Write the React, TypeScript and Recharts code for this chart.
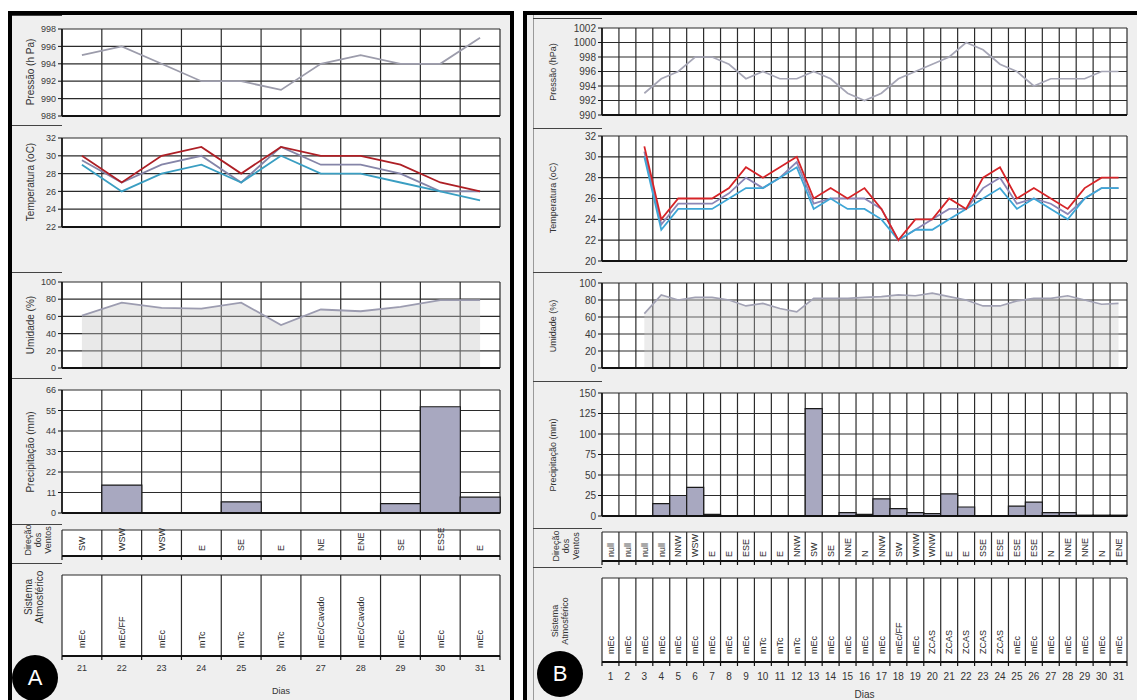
import React from 'react';
import { ComposedChart, Line, Area, Bar, XAxis, YAxis, CartesianGrid, ReferenceLine } from 'recharts';

const FONT = '"Liberation Sans", Arial, sans-serif';

// ---------------- Panel A (dias 21-31) ----------------
const daysA = ['21', '22', '23', '24', '25', '26', '27', '28', '29', '30', '31'];
const pressaoA = [995, 996, 994, 992, 992, 991, 994, 995, 994, 994, 997];
const tempMaxA = [30, 27, 30, 31, 28, 31, 30, 30, 29, 27, 26];
const tempMedA = [29.5, 27, 29, 30, 27, 31, 29, 29, 28, 26, 26];
const tempMinA = [29, 26, 28, 29, 27, 30, 28, 28, 27, 26, 25];
const umidadeA = [61, 76, 70, 69, 76, 50, 68, 66, 71, 79, 79];
const precipA = [0, 15, 0, 0, 6, 0, 0, 0, 5, 57, 8.5];
const ventosA = ['SW', 'WSW', 'WSW', 'E', 'SE', 'E', 'NE', 'ENE', 'SE', 'ESSE', 'E'];
const sistemaA = ['mEc', 'mEc/FF', 'mEc', 'mTc', 'mTc', 'mTc', 'mEc/Cavado', 'mEc/Cavado', 'mEc', 'mEc', 'mEc'];

const ticksPressaoA = [988, 990, 992, 994, 996, 998];
const ticksTempA = [22, 24, 26, 28, 30, 32];
const ticksUmidade = [0, 20, 40, 60, 80, 100];
const ticksPrecipA = [0, 11, 22, 33, 44, 55, 66];

// ---------------- Panel B (dias 1-31) ----------------
const daysB = ['1', '2', '3', '4', '5', '6', '7', '8', '9', '10', '11', '12', '13', '14', '15', '16', '17', '18', '19', '20', '21', '22', '23', '24', '25', '26', '27', '28', '29', '30', '31'];
const pressaoB = [null, null, 993, 995, 996, 998, 998, 997, 995, 996, 995, 995, 996, 995, 993, 992, 993, 995, 996, 997, 998, 1000, 999, 997, 996, 994, 995, 995, 995, 996, 996];
const tempMaxB = [null, null, 31, 24, 26, 26, 26, 27, 29, 28, 29, 30, 26, 27, 26, 27, 25, 22, 24, 24, 26, 25, 28, 29, 26, 27, 26, 25, 27, 28, 28];
const tempMedB = [null, null, 30.5, 23.5, 25.5, 25.5, 25.5, 26.5, 28, 27, 28, 29.5, 25.5, 26, 26, 26, 25, 22, 23, 24, 25, 25, 27, 28, 25.5, 26, 25.5, 24.5, 26, 27, 27];
const tempMinB = [null, null, 30, 23, 25, 25, 25, 26, 27, 27, 28, 29, 25, 26, 25, 25, 24, 22, 23, 23, 24, 25, 26, 27, 25, 26, 25, 24, 26, 27, 27];
const umidadeB = [null, null, 64, 86, 80, 83, 83, 80, 73, 76, 70, 66, 82, 82, 82, 83, 84, 86, 85, 88, 84, 80, 73, 73, 79, 82, 82, 85, 80, 75, 76];
const precipB = [0, 0, 0, 15, 25, 35, 2, 0, 0, 0, 0, 0, 131, 0, 4, 2, 21, 9, 4, 3, 27, 11, 0, 0, 12, 17, 4, 4, 1, 1, 1];
const ventosB = ['null', 'null', 'null', 'null', 'NNW', 'WSW', 'E', 'E', 'ESE', 'E', 'E', 'NNW', 'SW', 'SE', 'NNE', 'N', 'NNW', 'SW', 'WNW', 'WNW', 'E', 'E', 'SSE', 'ESE', 'ESE', 'ESE', 'N', 'NNE', 'NNE', 'N', 'ENE'];
const sistemaB = ['mEc', 'mEc', 'mEc', 'mEc', 'mEc', 'mEc', 'mEc', 'mEc', 'mEc', 'mTc', 'mTc', 'mTc', 'mEc', 'mEc', 'mEc', 'mEc', 'mEc', 'mEc/FF', 'mEc', 'ZCAS', 'ZCAS', 'ZCAS', 'ZCAS', 'ZCAS', 'mEc', 'mEc', 'mEc', 'mEc', 'mEc', 'mEc', 'mEc'];

const ticksPressaoB = [990, 992, 994, 996, 998, 1000, 1002];
const ticksTempB = [20, 22, 24, 26, 28, 30, 32];
const ticksPrecipB = [0, 25, 50, 75, 100, 125, 150];

const tableA = daysA.map((day, i) => ({
  day, pressao: pressaoA[i], tmax: tempMaxA[i], tmed: tempMedA[i], tmin: tempMinA[i], umid: umidadeA[i], prec: precipA[i],
}));
const tableB = daysB.map((day, i) => ({
  day, pressao: pressaoB[i], tmax: tempMaxB[i], tmed: tempMedB[i], tmin: tempMinB[i], umid: umidadeB[i], prec: precipB[i],
}));

type GraphProps = {
  table: any[]; n: number; x0: number; x1: number; y0: number; y1: number;
  domain: [number, number]; ticks: number[]; tickFont: number; children?: React.ReactNode;
};

function GraphRow({ table, n, x0, x1, y0, y1, domain, ticks, tickFont, children }: GraphProps) {
  const YW = 40, MT = 7, MR = 6, MB = 8;
  const w = x1 - x0, h = y1 - y0;
  const gen = (p: any) => {
    const o = p && p.offset;
    const L = o && typeof o.left === 'number' ? o.left : YW;
    const W = o && typeof o.width === 'number' ? o.width : w;
    return Array.from({ length: n + 1 }, (_, i) => L + (i * W) / n);
  };
  return (
    <div style={{ position: 'absolute', left: x0 - YW, top: y0 - MT }}>
      <ComposedChart
        width={w + YW + MR}
        height={h + MT + MB}
        margin={{ top: MT, right: MR, bottom: MB, left: 0 }}
        data={table}
        barCategoryGap={0}
        barGap={0}
      >
        <CartesianGrid stroke="#2b2b2b" strokeWidth={1.2} fill="#ffffff" verticalCoordinatesGenerator={gen} />
        <XAxis dataKey="day" scale="band" hide />
        <YAxis
          width={YW}
          type="number"
          domain={domain}
          ticks={ticks}
          interval={0}
          tickSize={4}
          tickMargin={2}
          tick={{ fontSize: tickFont, fill: '#3a3a3a', fontFamily: FONT }}
          tickLine={{ stroke: '#111' }}
          axisLine={{ stroke: '#111', strokeWidth: 1.5 }}
        />
        {children}
        <ReferenceLine y={domain[0]} stroke="#111" strokeWidth={2} />
      </ComposedChart>
    </div>
  );
}

type TextProps = {
  table: any[]; labels: string[]; n: number; x0: number; x1: number; y0: number; y1: number;
  fontSize: number; textLift: number; days?: boolean; dayFont?: number; dayOffset?: number; xh?: number;
};

function TextRow({ table, labels, n, x0, x1, y0, y1, fontSize, textLift, days, dayFont = 9, dayOffset = 14, xh = 6 }: TextProps) {
  const ML = 4, MR = 6, MT = 2;
  const w = x1 - x0, h = y1 - y0;
  const bottom = MT + h;
  const bw = w / n;
  const gen = (p: any) => {
    const o = p && p.offset;
    const L = o && typeof o.left === 'number' ? o.left : ML;
    const W = o && typeof o.width === 'number' ? o.width : w;
    return Array.from({ length: n + 1 }, (_, i) => L + (i * W) / n);
  };
  const renderTick = (props: any) => {
    const x = props.x;
    const idx = props.payload && typeof props.payload.index === 'number' ? props.payload.index : props.index;
    return (
      <g>
        <line x1={x - bw / 2} x2={x - bw / 2} y1={bottom} y2={bottom + 4} stroke="#111" strokeWidth={1.2} />
        {idx === n - 1 ? <line x1={x + bw / 2} x2={x + bw / 2} y1={bottom} y2={bottom + 4} stroke="#111" strokeWidth={1.2} /> : null}
        <text
          transform={`translate(${x + fontSize * 0.36},${bottom - textLift}) rotate(-90)`}
          fontSize={fontSize}
          fontFamily={FONT}
          fill="#2a2a2a"
          textAnchor="start"
        >
          {labels[idx]}
        </text>
        {days ? (
          <text x={x} y={bottom + dayOffset} textAnchor="middle" fontSize={dayFont} fontFamily={FONT} fill="#333">
            {props.payload.value}
          </text>
        ) : null}
      </g>
    );
  };
  return (
    <div style={{ position: 'absolute', left: x0 - ML, top: y0 - MT }}>
      <ComposedChart
        width={w + ML + MR}
        height={h + MT + xh}
        margin={{ top: MT, right: MR, bottom: 0, left: ML }}
        data={table}
      >
        <CartesianGrid stroke="#2b2b2b" strokeWidth={1.2} fill="#ffffff" horizontalPoints={[MT]} verticalCoordinatesGenerator={gen} />
        <XAxis
          dataKey="day"
          scale="band"
          height={xh}
          interval={0}
          tickLine={false}
          tick={renderTick}
          axisLine={{ stroke: '#111', strokeWidth: 2 }}
          label={days ? { value: 'Dias', position: 'insideBottom', offset: 2, fontSize: dayFont, fill: '#333', fontFamily: FONT } : undefined}
        />
        <YAxis hide domain={[0, 1]} />
      </ComposedChart>
    </div>
  );
}

function Title({ text, x, y, size }: { text: string; x: number; y: number; size: number }) {
  return (
    <div
      style={{
        position: 'absolute', left: x, top: y, transform: 'translate(-50%, -50%) rotate(-90deg)',
        whiteSpace: 'pre', textAlign: 'center', fontSize: size, lineHeight: `${size + 1}px`, color: '#333', fontFamily: FONT,
      }}
    >
      {text}
    </div>
  );
}

function Sep({ x0, x1, y }: { x0: number; x1: number; y: number }) {
  return <div style={{ position: 'absolute', left: x0, top: y, width: x1 - x0, height: 1, background: '#444' }} />;
}

function Badge({ letter, cx, cy }: { letter: string; cx: number; cy: number }) {
  return (
    <div
      style={{
        position: 'absolute', left: cx - 23, top: cy - 23, width: 46, height: 46, borderRadius: '50%', background: '#000',
        color: '#fff', fontSize: 22, lineHeight: '46px', textAlign: 'center', fontFamily: FONT,
      }}
    >
      {letter}
    </div>
  );
}

export default function App() {
  const A = { x0: 62, x1: 500, n: 11 };
  const B = { x0: 602, x1: 1127, n: 31 };
  return (
    <div style={{ position: 'absolute', left: 0, top: 0, width: 1137, height: 700, overflow: 'hidden', background: '#fff', fontFamily: FONT }}>
      <div style={{ position: 'absolute', left: 8, top: 11, width: 506, height: 720, border: '4px solid #000', boxSizing: 'border-box', background: '#efefef' }} />
      <div style={{ position: 'absolute', left: 523, top: 11, width: 640, height: 720, border: '4px solid #000', boxSizing: 'border-box', background: '#efefef' }} />
      <div style={{ position: 'absolute', left: 533, top: 15, width: 1, height: 690, background: '#9a9a9a' }} />

      {/* separators left column */}
      {[15, 125, 272, 378, 524, 563].map((y) => <Sep key={'a' + y} x0={12} x1={62} y={y} />)}
      {[18, 128, 272, 381, 528, 567].map((y) => <Sep key={'b' + y} x0={533} x1={602} y={y} />)}

      {/* ---------- Panel A ---------- */}
      <GraphRow table={tableA} n={A.n} x0={A.x0} x1={A.x1} y0={29} y1={116} domain={[988, 998]} ticks={ticksPressaoA} tickFont={9}>
        <Line dataKey="pressao" stroke="#9c9cab" strokeWidth={1.8} dot={false} isAnimationActive={false} />
      </GraphRow>
      <GraphRow table={tableA} n={A.n} x0={A.x0} x1={A.x1} y0={138} y1={227} domain={[22, 32]} ticks={ticksTempA} tickFont={9}>
        <Line dataKey="tmed" stroke="#8585a8" strokeWidth={1.8} dot={false} isAnimationActive={false} />
        <Line dataKey="tmin" stroke="#3a9ec2" strokeWidth={1.8} dot={false} isAnimationActive={false} />
        <Line dataKey="tmax" stroke="#ad1f25" strokeWidth={1.8} dot={false} isAnimationActive={false} />
      </GraphRow>
      <GraphRow table={tableA} n={A.n} x0={A.x0} x1={A.x1} y0={282} y1={368} domain={[0, 100]} ticks={ticksUmidade} tickFont={9}>
        <Area dataKey="umid" stroke="none" fill="#c8c8c8" fillOpacity={0.4} isAnimationActive={false} />
        <Line dataKey="umid" stroke="#9c9cb0" strokeWidth={1.8} dot={false} isAnimationActive={false} />
      </GraphRow>
      <GraphRow table={tableA} n={A.n} x0={A.x0} x1={A.x1} y0={390} y1={513} domain={[0, 66]} ticks={ticksPrecipA} tickFont={9}>
        <Bar dataKey="prec" fill="#a8a8c0" stroke="#1a1a1a" strokeWidth={1.2} isAnimationActive={false} />
      </GraphRow>
      <TextRow table={tableA} labels={ventosA} n={A.n} x0={A.x0} x1={A.x1} y0={530} y1={556} fontSize={9} textLift={5} />
      <TextRow table={tableA} labels={sistemaA} n={A.n} x0={A.x0} x1={A.x1} y0={575} y1={656} fontSize={9} textLift={8} days dayFont={9} dayOffset={15} xh={40} />

      <Title text="Pressão (h Pa)" x={30} y={72} size={10} />
      <Title text="Temperatura (oC)" x={30} y={182} size={10} />
      <Title text="Umidade (%)" x={30} y={325} size={10} />
      <Title text="Precipitação (mm)" x={30} y={452} size={10} />
      <Title text={'Direção\ndos\nVentos'} x={38} y={540} size={9} />
      <Title text={'Sistema\nAtmosférico'} x={34} y={597} size={10} />

      {/* ---------- Panel B ---------- */}
      <GraphRow table={tableB} n={B.n} x0={B.x0} x1={B.x1} y0={28} y1={115} domain={[990, 1002]} ticks={ticksPressaoB} tickFont={10}>
        <Line dataKey="pressao" stroke="#a6a6b6" strokeWidth={1.7} dot={false} isAnimationActive={false} />
      </GraphRow>
      <GraphRow table={tableB} n={B.n} x0={B.x0} x1={B.x1} y0={136} y1={261} domain={[20, 32]} ticks={ticksTempB} tickFont={10}>
        <Line dataKey="tmed" stroke="#8c86b6" strokeWidth={1.8} dot={false} isAnimationActive={false} />
        <Line dataKey="tmin" stroke="#3ea6d6" strokeWidth={1.8} dot={false} isAnimationActive={false} />
        <Line dataKey="tmax" stroke="#d62428" strokeWidth={1.8} dot={false} isAnimationActive={false} />
      </GraphRow>
      <GraphRow table={tableB} n={B.n} x0={B.x0} x1={B.x1} y0={283} y1={368} domain={[0, 100]} ticks={ticksUmidade} tickFont={10}>
        <Area dataKey="umid" stroke="none" fill="#c8c8c8" fillOpacity={0.35} isAnimationActive={false} />
        <Line dataKey="umid" stroke="#a2a2b4" strokeWidth={1.7} dot={false} isAnimationActive={false} />
      </GraphRow>
      <GraphRow table={tableB} n={B.n} x0={B.x0} x1={B.x1} y0={393} y1={516} domain={[0, 150]} ticks={ticksPrecipB} tickFont={10}>
        <Bar dataKey="prec" fill="#a8a8c0" stroke="#1a1a1a" strokeWidth={1.2} isAnimationActive={false} />
      </GraphRow>
      <TextRow table={tableB} labels={ventosB} n={B.n} x0={B.x0} x1={B.x1} y0={532} y1={561} fontSize={9} textLift={4} />
      <TextRow table={tableB} labels={sistemaB} n={B.n} x0={B.x0} x1={B.x1} y0={578} y1={662} fontSize={9} textLift={8} days dayFont={10} dayOffset={18} xh={38} />

      <Title text="Pressão (hPa)" x={553} y={72} size={9} />
      <Title text="Temperatura (oC)" x={553} y={198} size={9} />
      <Title text="Umidade (%)" x={553} y={326} size={9} />
      <Title text="Precipitação (mm)" x={553} y={455} size={9} />
      <Title text={'Direção\ndos\nVentos'} x={566} y={546} size={9} />
      <Title text={'Sistema\nAtmosférico'} x={560} y={621} size={9} />

      <Badge letter="A" cx={35} cy={678} />
      <Badge letter="B" cx={560} cy={674} />
    </div>
  );
}
